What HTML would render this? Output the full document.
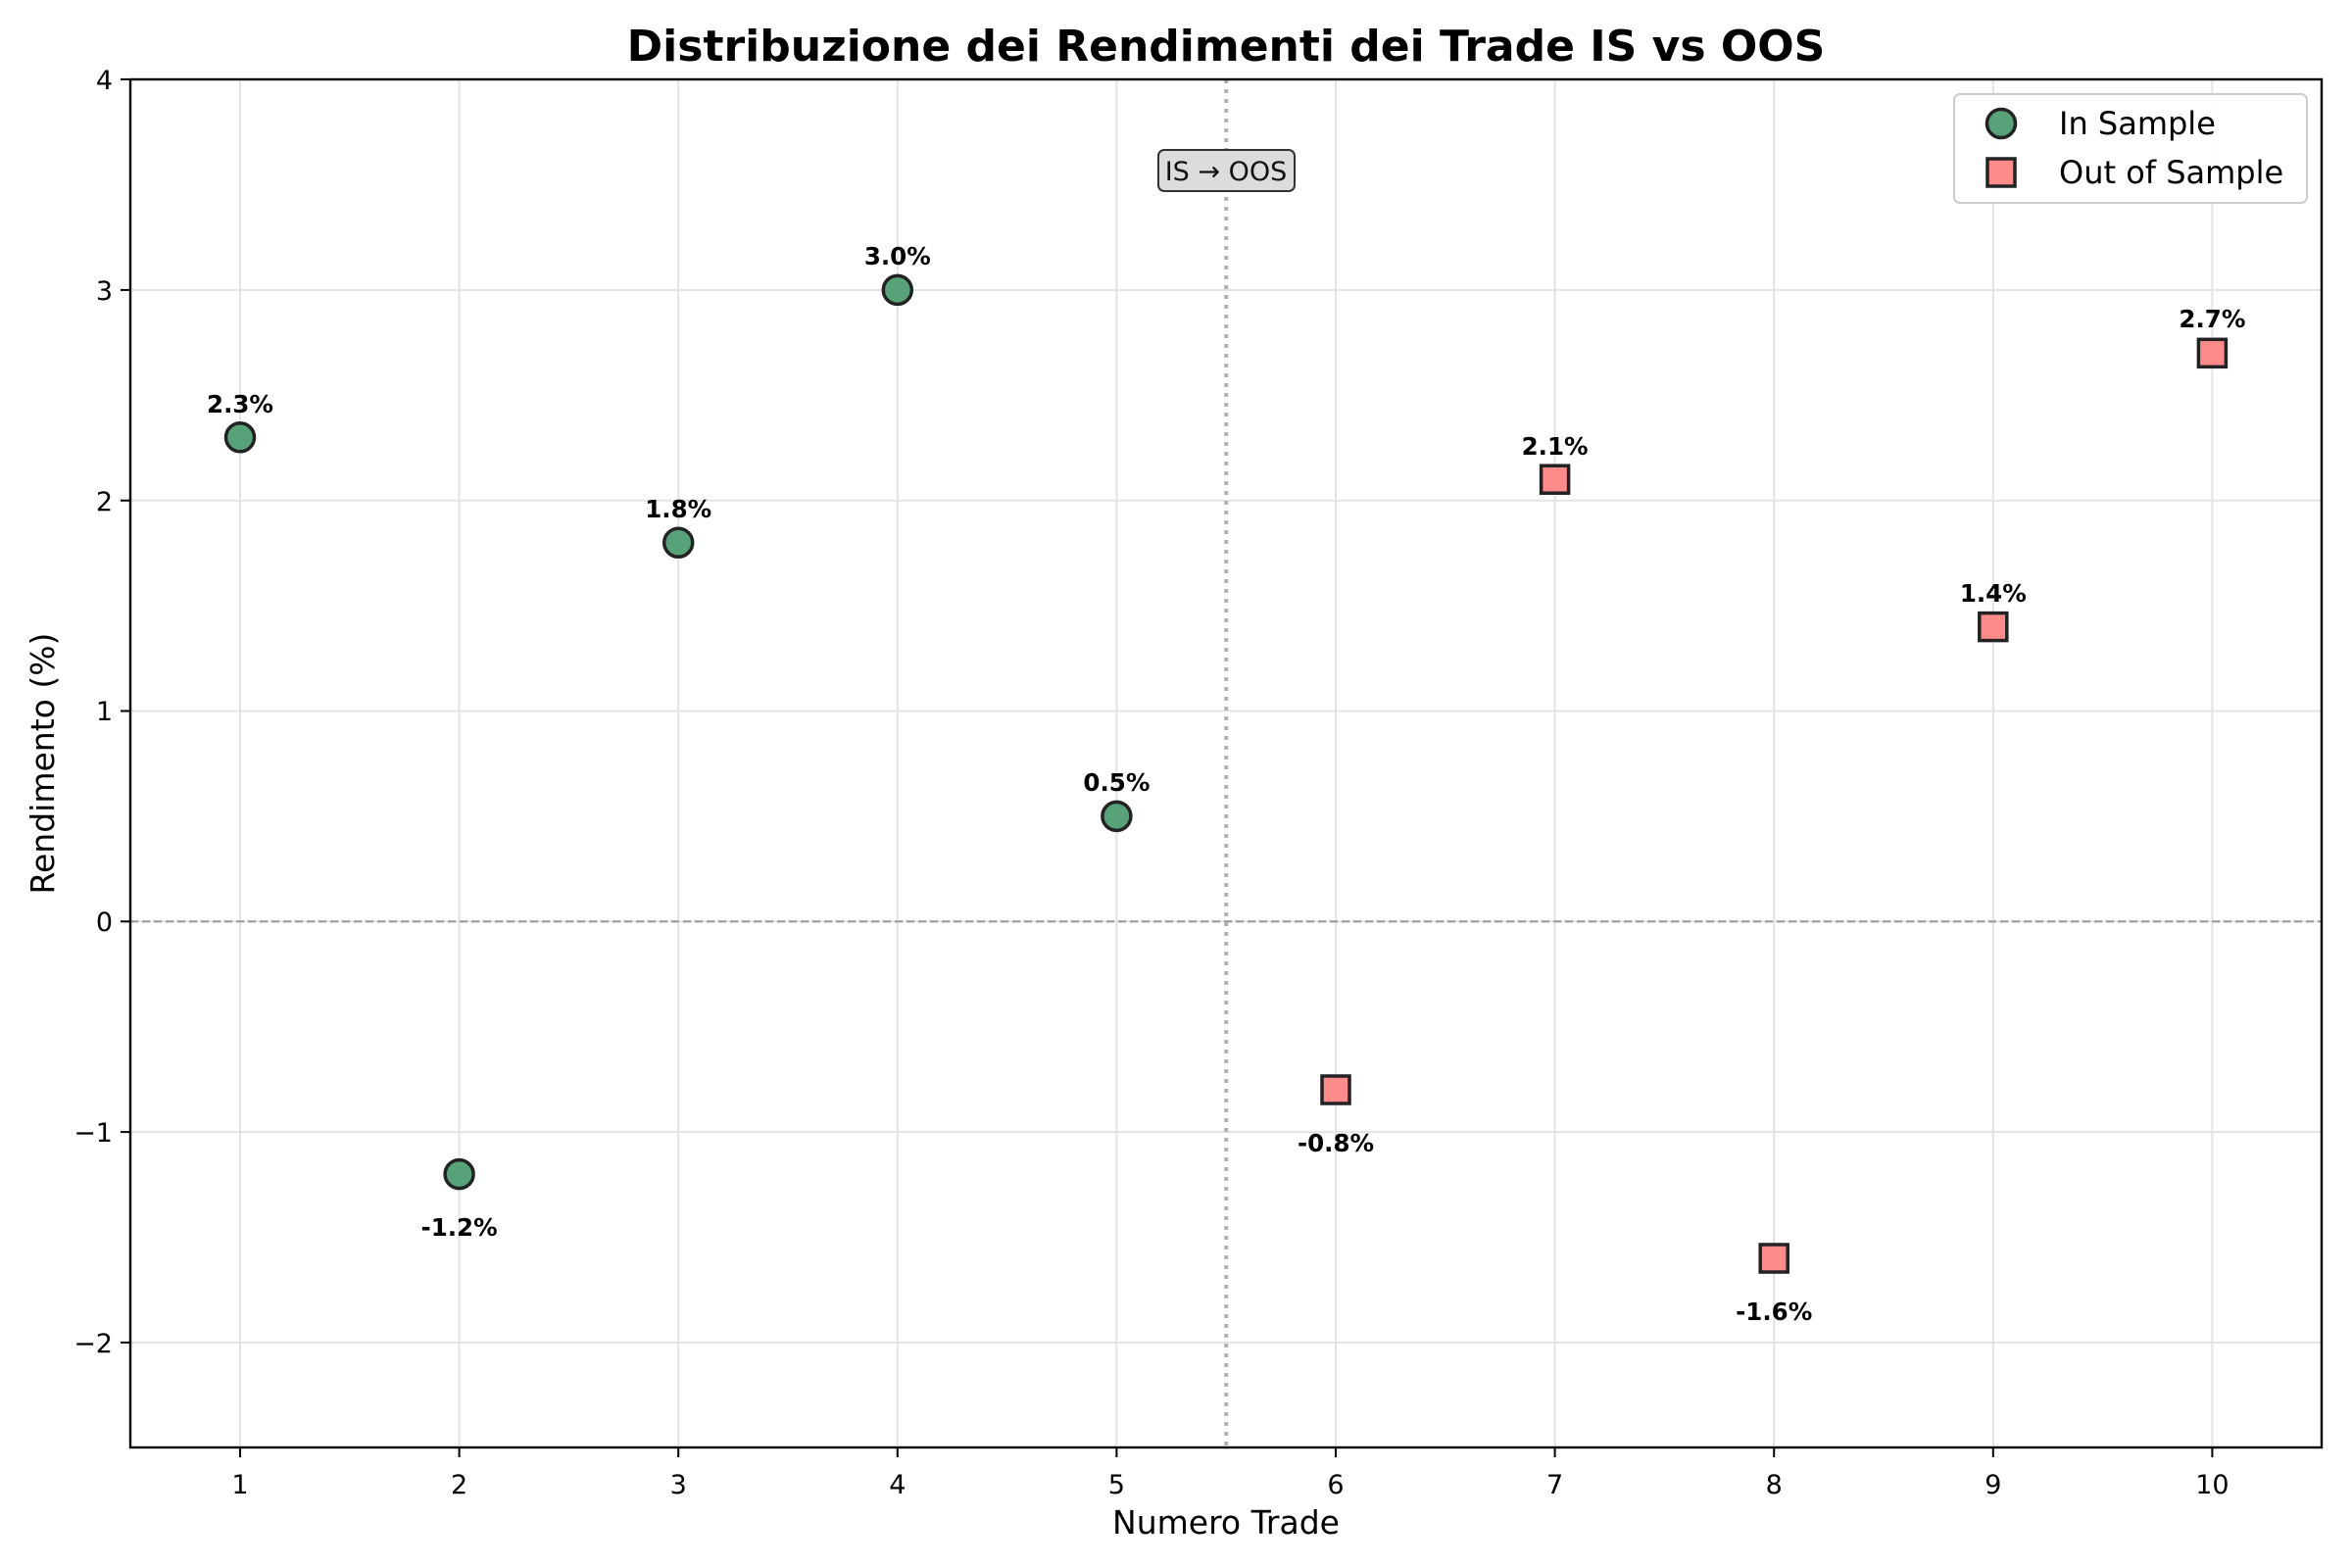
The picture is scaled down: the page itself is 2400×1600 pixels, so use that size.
<!DOCTYPE html>
<html><head><meta charset="utf-8"><style>body{margin:0;background:#fff}svg{display:block}text{font-family:"DejaVu Sans","Liberation Sans",sans-serif}</style></head><body>
<svg width="2400" height="1600" viewBox="0 0 2400 1600" xmlns="http://www.w3.org/2000/svg">
<rect width="2400" height="1600" fill="#fff"/>
<g stroke="#e3e3e3" stroke-width="2">
<line x1="245" y1="81" x2="245" y2="1477"/><line x1="468.6" y1="81" x2="468.6" y2="1477"/><line x1="692.2" y1="81" x2="692.2" y2="1477"/><line x1="915.8" y1="81" x2="915.8" y2="1477"/><line x1="1139.4" y1="81" x2="1139.4" y2="1477"/><line x1="1363" y1="81" x2="1363" y2="1477"/><line x1="1586.6" y1="81" x2="1586.6" y2="1477"/><line x1="1810.2" y1="81" x2="1810.2" y2="1477"/><line x1="2033.8" y1="81" x2="2033.8" y2="1477"/><line x1="2257.4" y1="81" x2="2257.4" y2="1477"/>
<line x1="133" y1="295.9" x2="2369" y2="295.9"/><line x1="133" y1="510.7" x2="2369" y2="510.7"/><line x1="133" y1="725.5" x2="2369" y2="725.5"/><line x1="133" y1="940.3" x2="2369" y2="940.3"/><line x1="133" y1="1155.1" x2="2369" y2="1155.1"/><line x1="133" y1="1369.9" x2="2369" y2="1369.9"/>
</g>
<line x1="133" y1="940.3" x2="2369" y2="940.3" stroke="#999" stroke-width="2.2" stroke-dasharray="8,4"/>
<line x1="1251.2" y1="81" x2="1251.2" y2="1477" stroke="#b0b0b0" stroke-width="4" stroke-dasharray="4,6"/>
<rect x="1182" y="153" width="139" height="42" rx="6" fill="#dcdcdc" stroke="#333" stroke-width="2"/>
<text x="1251" y="184" font-size="27" text-anchor="middle" fill="#111">IS → OOS</text>
<g fill="#58a279" stroke="#222" stroke-width="3.5">
<circle cx="245" cy="446.3" r="14.5"/><circle cx="468.6" cy="1198.1" r="14.5"/><circle cx="692.2" cy="553.7" r="14.5"/><circle cx="915.8" cy="295.9" r="14.5"/><circle cx="1139.4" cy="832.9" r="14.5"/>
</g>
<g fill="#ff8a8a" stroke="#222" stroke-width="3.5">
<rect x="1349" y="1098" width="28" height="28"/><rect x="1572.6" y="475.2" width="28" height="28"/><rect x="1796.2" y="1270" width="28" height="28"/><rect x="2019.8" y="625.6" width="28" height="28"/><rect x="2243.4" y="346.3" width="28" height="28"/>
</g>
<g font-size="24.5" font-weight="bold" text-anchor="middle" fill="#000">
<text x="245" y="421">2.3%</text><text x="468.6" y="1261">-1.2%</text><text x="692.2" y="528">1.8%</text><text x="915.8" y="270">3.0%</text><text x="1139.4" y="807">0.5%</text>
<text x="1363" y="1175">-0.8%</text><text x="1586.6" y="464">2.1%</text><text x="1810.2" y="1347">-1.6%</text><text x="2033.8" y="614">1.4%</text><text x="2257.4" y="334">2.7%</text>
</g>
<rect x="133" y="81" width="2236" height="1396" fill="none" stroke="#000" stroke-width="2.4"/>
<g stroke="#000" stroke-width="2">
<line x1="245" y1="1477" x2="245" y2="1487"/><line x1="468.6" y1="1477" x2="468.6" y2="1487"/><line x1="692.2" y1="1477" x2="692.2" y2="1487"/><line x1="915.8" y1="1477" x2="915.8" y2="1487"/><line x1="1139.4" y1="1477" x2="1139.4" y2="1487"/><line x1="1363" y1="1477" x2="1363" y2="1487"/><line x1="1586.6" y1="1477" x2="1586.6" y2="1487"/><line x1="1810.2" y1="1477" x2="1810.2" y2="1487"/><line x1="2033.8" y1="1477" x2="2033.8" y2="1487"/><line x1="2257.4" y1="1477" x2="2257.4" y2="1487"/>
<line x1="123" y1="81" x2="133" y2="81"/><line x1="123" y1="295.9" x2="133" y2="295.9"/><line x1="123" y1="510.7" x2="133" y2="510.7"/><line x1="123" y1="725.5" x2="133" y2="725.5"/><line x1="123" y1="940.3" x2="133" y2="940.3"/><line x1="123" y1="1155.1" x2="133" y2="1155.1"/><line x1="123" y1="1369.9" x2="133" y2="1369.9"/>
</g>
<g font-size="27" text-anchor="middle" fill="#000">
<text x="245" y="1524">1</text><text x="468.6" y="1524">2</text><text x="692.2" y="1524">3</text><text x="915.8" y="1524">4</text><text x="1139.4" y="1524">5</text><text x="1363" y="1524">6</text><text x="1586.6" y="1524">7</text><text x="1810.2" y="1524">8</text><text x="2033.8" y="1524">9</text><text x="2257.4" y="1524">10</text>
</g>
<g font-size="27" text-anchor="end" fill="#000">
<text x="115" y="91">4</text><text x="115" y="306">3</text><text x="115" y="521">2</text><text x="115" y="735">1</text><text x="115" y="950">0</text><text x="115" y="1165">−1</text><text x="115" y="1380">−2</text>
</g>
<text x="1251" y="1565" font-size="33" text-anchor="middle">Numero Trade</text>
<text transform="translate(55,779) rotate(-90)" font-size="33" text-anchor="middle">Rendimento (%)</text>
<text x="1251" y="62" font-size="44" font-weight="bold" text-anchor="middle">Distribuzione dei Rendimenti dei Trade IS vs OOS</text>
<rect x="1994" y="96" width="360" height="111" rx="6" fill="#fff" fill-opacity="0.9" stroke="#ccc" stroke-width="2"/>
<circle cx="2042" cy="126" r="14.5" fill="#58a279" stroke="#222" stroke-width="3.5"/>
<rect x="2028" y="162" width="28" height="28" fill="#ff8a8a" stroke="#222" stroke-width="3.5"/>
<text x="2101" y="137" font-size="32">In Sample</text>
<text x="2101" y="187" font-size="32">Out of Sample</text>
</svg>
</body></html>
